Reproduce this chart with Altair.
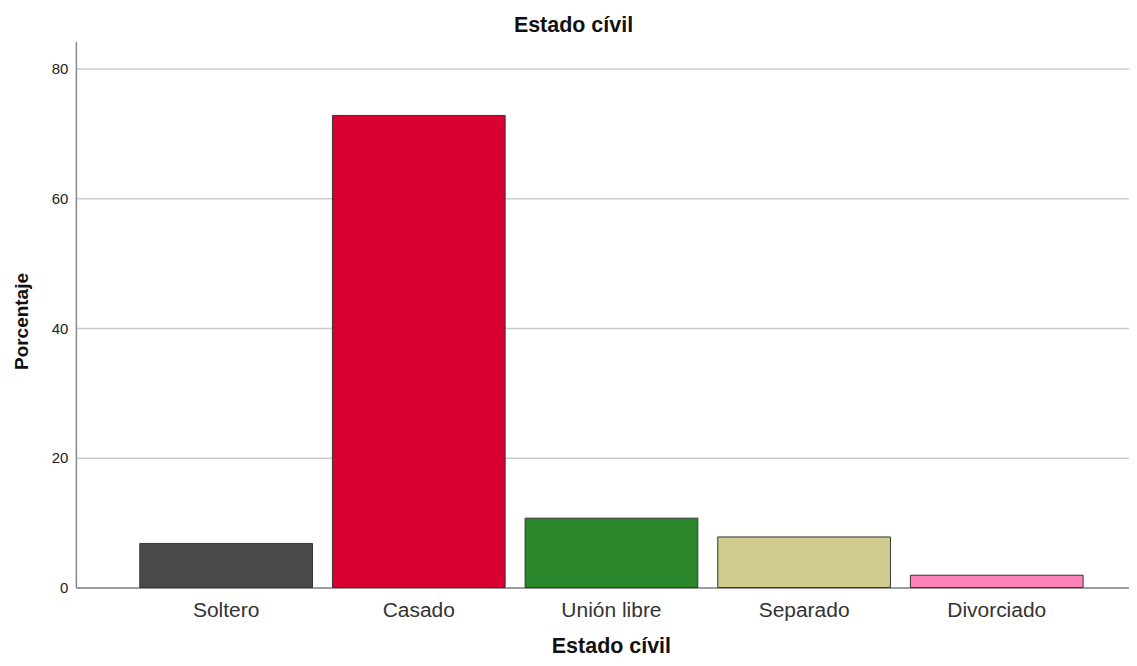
import altair as alt
import pandas as pd

categories = ["Soltero", "Casado", "Unión libre", "Separado", "Divorciado"]
values = [6.8, 72.8, 10.7, 7.8, 1.9]
colors = ["#48494b", "#d70031", "#2a862b", "#d0cb8f", "#fd84b8"]
y_ticks = [0, 20, 40, 60, 80]

df = pd.DataFrame({"cat": categories, "pct": values})

font = "Liberation Sans"

chart = alt.Chart(df).mark_bar(stroke="#333333", strokeWidth=1).encode(
    x=alt.X("cat:N", sort=categories,
            scale=alt.Scale(paddingInner=0.1036, paddingOuter=0.285, align=0.582),
            axis=alt.Axis(title="Estado cívil", labelAngle=0, ticks=False,
                          labelFontSize=21, labelColor="#333333", labelFont=font,
                          labelPadding=12, domainColor="#888888", domainWidth=1.5,
                          titleFontSize=21.5, titleFont=font, titleFontWeight="bold",
                          titleColor="#111111", titlePadding=15, titleX=536)),
    y=alt.Y("pct:Q", scale=alt.Scale(domain=[0, 84.2], nice=False),
            axis=alt.Axis(title="Porcentaje", values=y_ticks, ticks=False,
                          labelFontSize=15, labelColor="#222222", labelFont=font,
                          labelPadding=8, domainColor="#888888", domainWidth=1.5,
                          gridColor="#cccccc", gridWidth=1.5,
                          titleFontSize=19, titleFont=font, titleFontWeight="bold",
                          titleColor="#111111", titlePadding=19.5, titleY=280)),
    color=alt.Color("cat:N", sort=categories,
                    scale=alt.Scale(domain=categories, range=colors), legend=None),
).properties(
    width=1055, height=547,
    title=alt.TitleParams("Estado cívil", fontSize=21.5, font=font, fontWeight="bold",
                          color="#111111", anchor="middle", offset=5, dx=-29),
    autosize=alt.AutoSizeParams(type="none"),
    padding={"left": 68, "top": 33, "right": 0, "bottom": 70},
).configure_view(stroke=None)

chart.save("out.html", embed_options={"renderer": "svg", "actions": False})
